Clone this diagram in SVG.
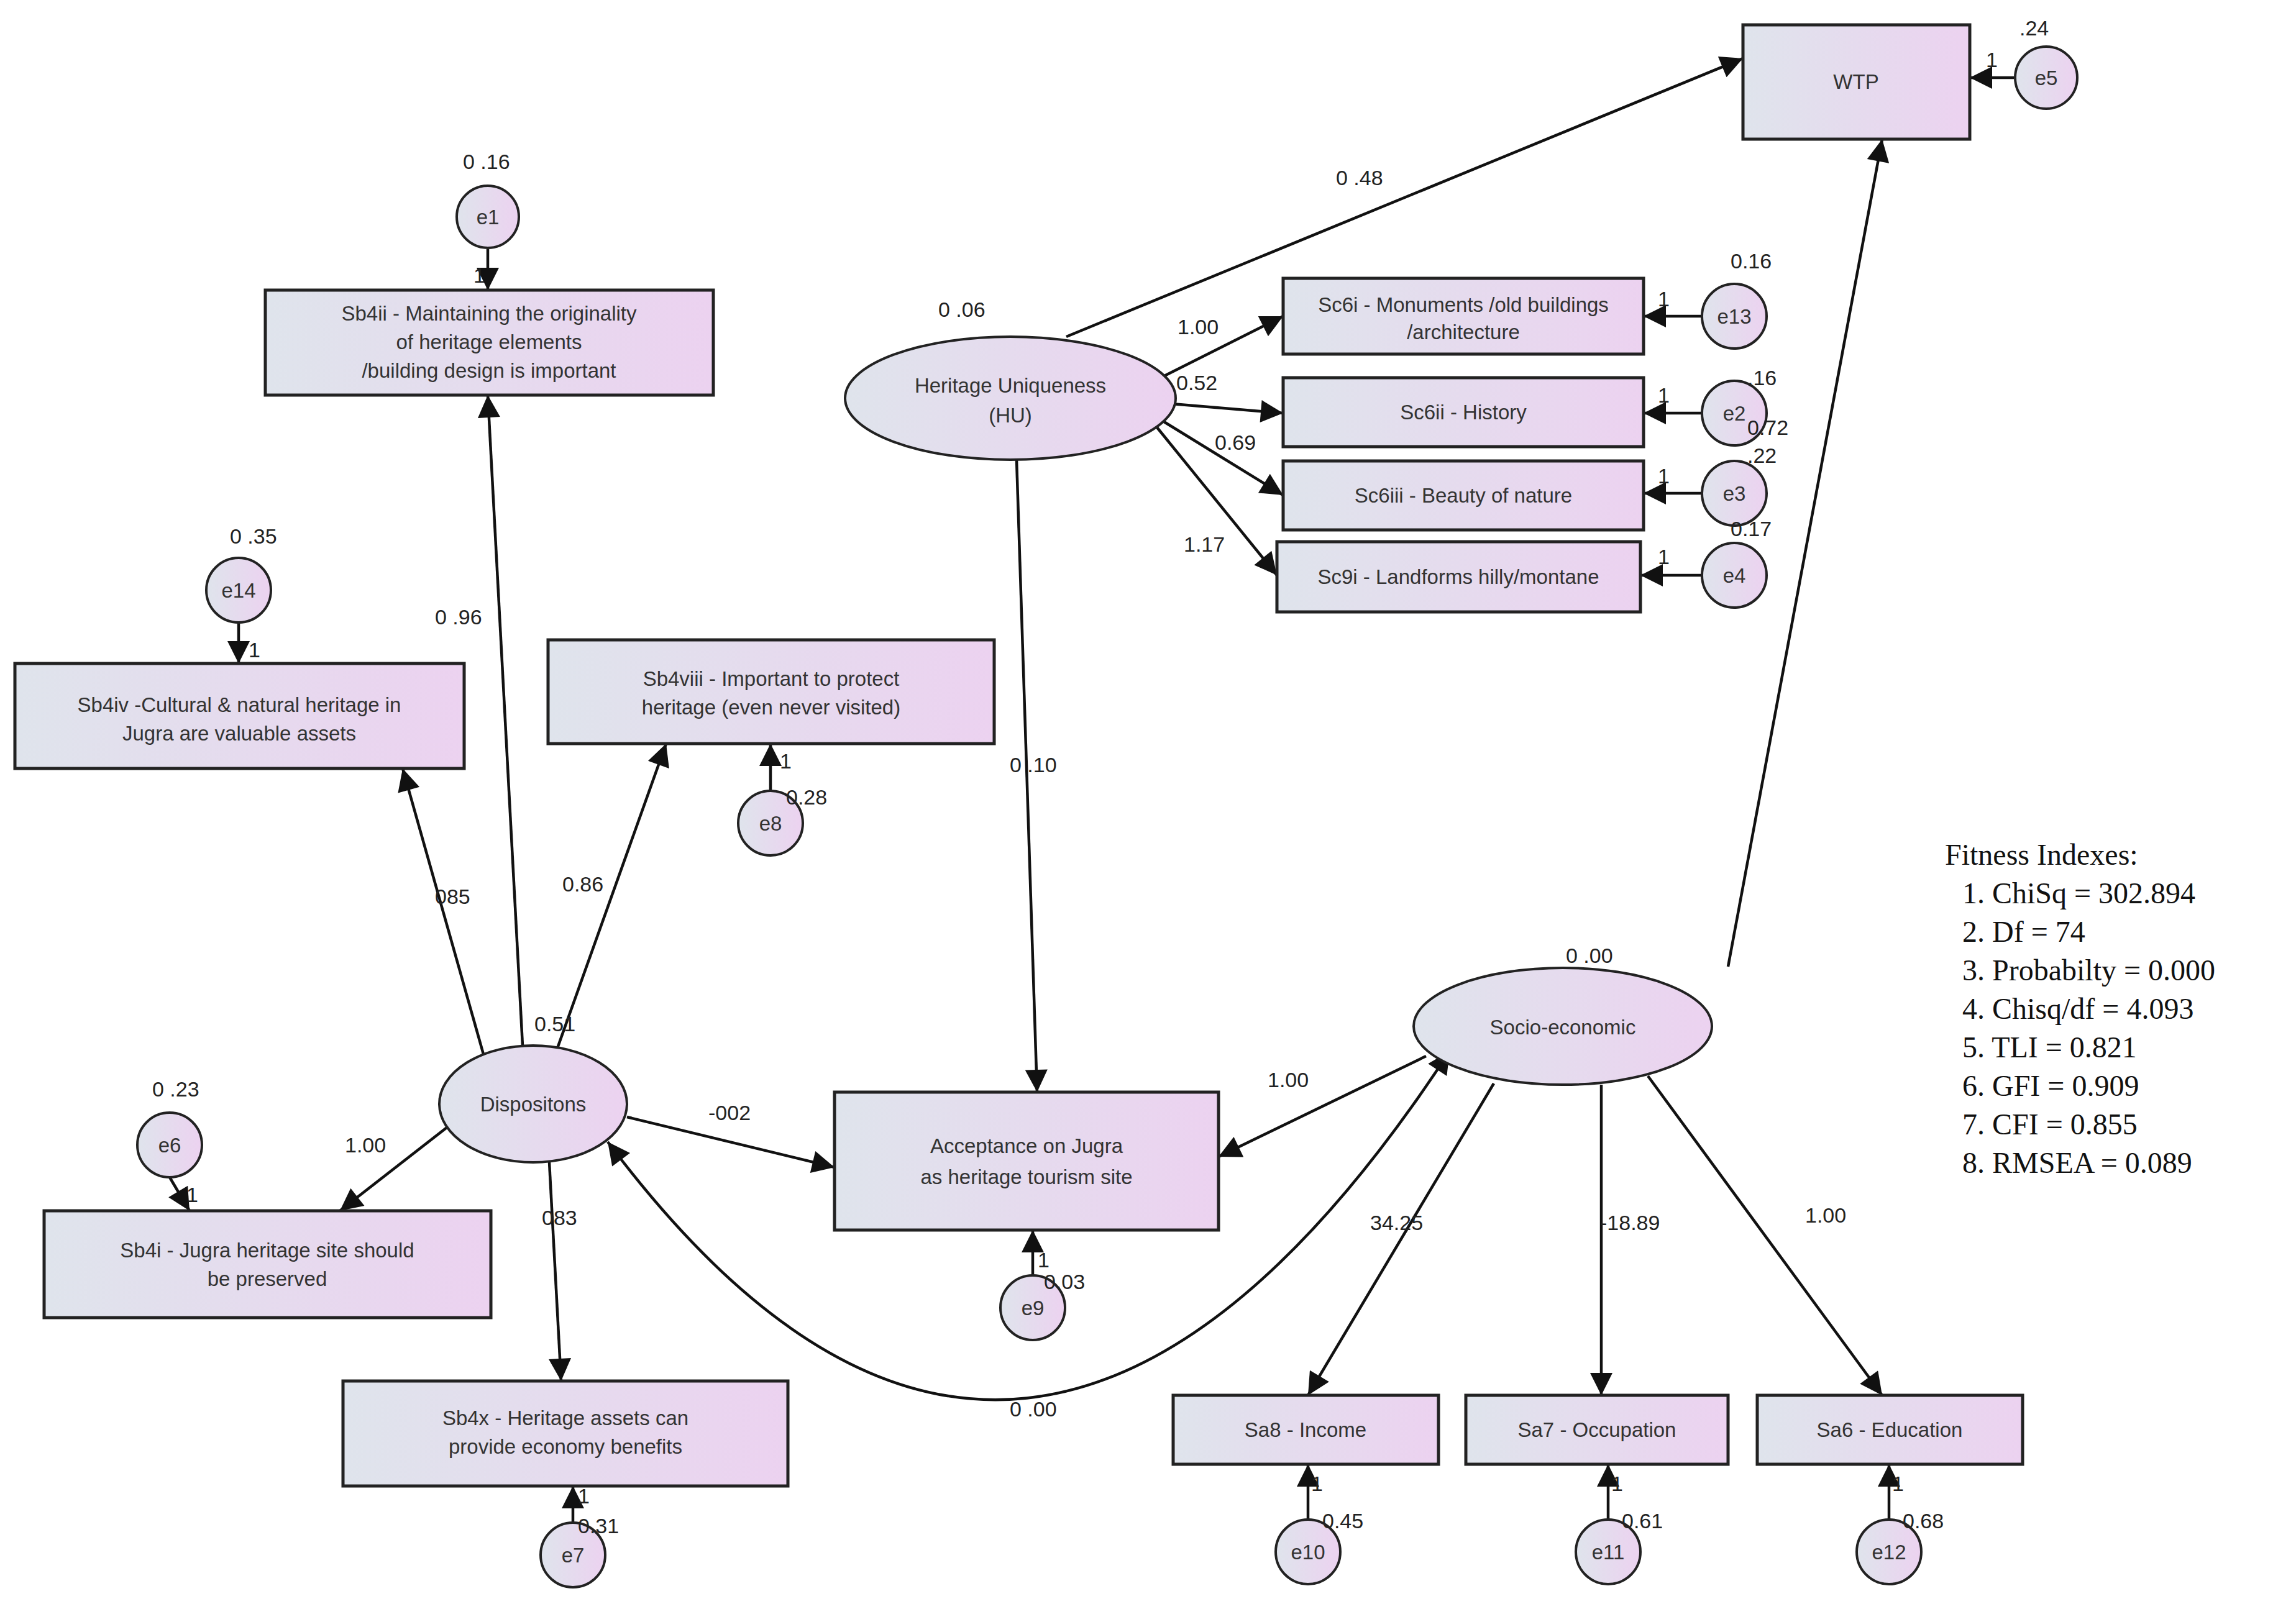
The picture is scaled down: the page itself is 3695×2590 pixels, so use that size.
<svg xmlns="http://www.w3.org/2000/svg" width="3695" height="2590" viewBox="0 0 3695 2590">
<defs>
<linearGradient id="g" x1="0" y1="0" x2="1" y2="0"><stop offset="0" stop-color="#dfe4ec"/><stop offset="1" stop-color="#ecd2f0"/></linearGradient>
<marker id="a" viewBox="0 0 10 10" refX="10" refY="5" markerWidth="11" markerHeight="8" markerUnits="strokeWidth" orient="auto-start-reverse"><path d="M0,0 L10,5 L0,10 z" fill="#111"/></marker>
<style>
.b{fill:url(#g);stroke:#222;stroke-width:5}
.e{fill:url(#g);stroke:#222;stroke-width:4}
.t{font-family:"Liberation Sans",Arial,sans-serif;font-size:33px;fill:#333;text-anchor:middle}
.l{font-family:"Liberation Sans",Arial,sans-serif;font-size:34px;fill:#222}
.f{font-family:"Liberation Serif","Times New Roman",serif;font-size:48px;fill:#111}
.c path{fill:none;stroke:#111;stroke-width:4.5;marker-end:url(#a)}
</style>
</defs>
<rect width="3695" height="2590" fill="#fff"/>
<g class="c" id="connectors">
<path d="M1716,542 L2805,94"/>
<path d="M2781,1556 L3029,224"/>
<path d="M1636,740 L1669,1758"/>
<path d="M1850,617 L2065,509"/>
<path d="M1862,648 L2065,665"/>
<path d="M1862,672 L2065,797"/>
<path d="M1862,688 L2055,926"/>
<path d="M841,1683 L785,636"/>
<path d="M778,1697 L648,1237"/>
<path d="M896,1690 L1072,1197"/>
<path d="M719,1815 L547,1949"/>
<path d="M884,1871 L903,2223"/>
<path d="M1009,1798 L1343,1879"/>
<path d="M2295,1700 L1961,1862"/>
<path d="M2404,1744 L2105,2246"/>
<path d="M2577,1746 L2577,2246"/>
<path d="M2652,1732 L3029,2246"/>
<path d="M978,1838 Q1650,2736 2333,1692" marker-start="url(#a)"/>
<path d="M3241,125 L3170,125"/>
<path d="M785,401 L785,467"/>
<path d="M384,1002 L384,1068"/>
<path d="M1240,1273 L1240,1197"/>
<path d="M273,1895 L305,1949"/>
<path d="M922,2451 L922,2392"/>
<path d="M1662,2053 L1662,1980"/>
<path d="M2739,509 L2645,509"/>
<path d="M2739,665 L2645,665"/>
<path d="M2739,794 L2645,794"/>
<path d="M2739,926 L2640,926"/>
<path d="M2105,2446 L2105,2357"/>
<path d="M2588,2446 L2588,2357"/>
<path d="M3040,2446 L3040,2357"/>
</g>
<g id="WTP"><rect class="b" x="2805" y="40" width="365" height="184"/><text class="t" x="2987" y="143">WTP</text></g>
<g id="e5"><circle class="e" cx="3293" cy="125" r="50"/><text class="t" x="3293" y="137">e5</text></g>
<g id="e1"><circle class="e" cx="785" cy="349" r="50"/><text class="t" x="785" y="361">e1</text></g>
<g id="Sb4ii"><rect class="b" x="427" y="467" width="721" height="169"/><text class="t" x="787" y="516">Sb4ii - Maintaining the originality</text><text class="t" x="787" y="562">of heritage elements</text><text class="t" x="787" y="608">/building design is important</text></g>
<g id="e14"><circle class="e" cx="384" cy="950" r="52"/><text class="t" x="384" y="962">e14</text></g>
<g id="Sb4iv"><rect class="b" x="24" y="1068" width="723" height="169"/><text class="t" x="385" y="1146">Sb4iv -Cultural &amp; natural heritage in</text><text class="t" x="385" y="1192">Jugra are valuable assets</text></g>
<g id="Sb4viii"><rect class="b" x="882" y="1030" width="718" height="167"/><text class="t" x="1241" y="1104">Sb4viii - Important to protect</text><text class="t" x="1241" y="1150">heritage (even never visited)</text></g>
<g id="e8"><circle class="e" cx="1240" cy="1325" r="52"/><text class="t" x="1240" y="1337">e8</text></g>
<g id="Dispositons"><ellipse class="e" cx="858" cy="1777" rx="151" ry="94"/><text class="t" x="858" y="1789">Dispositons</text></g>
<g id="e6"><circle class="e" cx="273" cy="1843" r="52"/><text class="t" x="273" y="1855">e6</text></g>
<g id="Sb4i"><rect class="b" x="71" y="1949" width="719" height="172"/><text class="t" x="430" y="2024">Sb4i - Jugra heritage site should</text><text class="t" x="430" y="2070">be preserved</text></g>
<g id="Sb4x"><rect class="b" x="552" y="2223" width="716" height="169"/><text class="t" x="910" y="2294">Sb4x - Heritage assets can</text><text class="t" x="910" y="2340">provide economy benefits</text></g>
<g id="e7"><circle class="e" cx="922" cy="2503" r="52"/><text class="t" x="922" y="2515">e7</text></g>
<g id="Acceptance"><rect class="b" x="1343" y="1758" width="618" height="222"/><text class="t" x="1652" y="1856" font-size="38">Acceptance on Jugra</text><text class="t" x="1652" y="1906" font-size="38">as heritage tourism site</text></g>
<g id="e9"><circle class="e" cx="1662" cy="2105" r="52"/><text class="t" x="1662" y="2117">e9</text></g>
<g id="HU"><ellipse class="e" cx="1626" cy="641" rx="266" ry="99"/><text class="t" x="1626" y="632" font-size="36">Heritage Uniqueness</text><text class="t" x="1626" y="680" font-size="36">(HU)</text></g>
<g id="Sc6i"><rect class="b" x="2065" y="448" width="580" height="122"/><text class="t" x="2355" y="502">Sc6i - Monuments /old buildings</text><text class="t" x="2355" y="546">/architecture</text></g>
<g id="Sc6ii"><rect class="b" x="2065" y="608" width="580" height="111"/><text class="t" x="2355" y="675">Sc6ii - History</text></g>
<g id="Sc6iii"><rect class="b" x="2065" y="742" width="580" height="111"/><text class="t" x="2355" y="809">Sc6iii - Beauty of nature</text></g>
<g id="Sc9i"><rect class="b" x="2055" y="872" width="585" height="113"/><text class="t" x="2347" y="940">Sc9i - Landforms hilly/montane</text></g>
<g id="e13"><circle class="e" cx="2791" cy="509" r="52"/><text class="t" x="2791" y="521">e13</text></g>
<g id="e2"><circle class="e" cx="2791" cy="665" r="52"/><text class="t" x="2791" y="677">e2</text></g>
<g id="e3"><circle class="e" cx="2791" cy="794" r="52"/><text class="t" x="2791" y="806">e3</text></g>
<g id="e4"><circle class="e" cx="2791" cy="926" r="52"/><text class="t" x="2791" y="938">e4</text></g>
<g id="Socio"><ellipse class="e" cx="2515" cy="1652" rx="240" ry="94"/><text class="t" x="2515" y="1665" font-size="36">Socio-economic</text></g>
<g id="Sa8"><rect class="b" x="1888" y="2246" width="427" height="111"/><text class="t" x="2101" y="2313">Sa8 - Income</text></g>
<g id="Sa7"><rect class="b" x="2359" y="2246" width="422" height="111"/><text class="t" x="2570" y="2313">Sa7 - Occupation</text></g>
<g id="Sa6"><rect class="b" x="2828" y="2246" width="427" height="111"/><text class="t" x="3041" y="2313">Sa6 - Education</text></g>
<g id="e10"><circle class="e" cx="2105" cy="2498" r="52"/><text class="t" x="2105" y="2510">e10</text></g>
<g id="e11"><circle class="e" cx="2588" cy="2498" r="52"/><text class="t" x="2588" y="2510">e11</text></g>
<g id="e12"><circle class="e" cx="3040" cy="2498" r="52"/><text class="t" x="3040" y="2510">e12</text></g>
<g id="labels" class="l">
<text x="3250" y="57">.24</text><text x="3196" y="108">1</text>
<text x="745" y="272">0 .16</text><text x="762" y="455">1</text>
<text x="370" y="875">0 .35</text><text x="400" y="1058">1</text>
<text x="1255" y="1237">1</text><text x="1265" y="1295">0.28</text>
<text x="245" y="1765">0 .23</text><text x="300" y="1935">1</text>
<text x="930" y="2420">1</text><text x="930" y="2468">0.31</text>
<text x="1670" y="2040">1</text><text x="1680" y="2075">0.03</text>
<text x="1510" y="510">0 .06</text>
<text x="2150" y="298">0 .48</text>
<text x="1895" y="538">1.00</text><text x="1893" y="628">0.52</text><text x="1955" y="724">0.69</text><text x="1905" y="888">1.17</text>
<text x="2785" y="432">0.16</text><text x="2668" y="493">1</text>
<text x="2812" y="620">.16</text><text x="2668" y="648">1</text>
<text x="2812" y="700">0.72</text><text x="2812" y="745">.22</text><text x="2668" y="778">1</text>
<text x="2785" y="863">0.17</text><text x="2668" y="908">1</text>
<text x="1625" y="1243">0 .10</text>
<text x="700" y="1005">0 .96</text><text x="700" y="1455">085</text><text x="905" y="1435">0.86</text><text x="860" y="1660">0.51</text>
<text x="555" y="1855">1.00</text><text x="1140" y="1803">-002</text><text x="872" y="1972">083</text>
<text x="1625" y="2280">0 .00</text>
<text x="2040" y="1750">1.00</text><text x="2520" y="1550">0 .00</text>
<text x="2205" y="1980">34.25</text><text x="2575" y="1980">-18.89</text><text x="2905" y="1968">1.00</text>
<text x="2110" y="2400">1</text><text x="2128" y="2460">0.45</text>
<text x="2593" y="2400">1</text><text x="2610" y="2460">0.61</text>
<text x="3045" y="2400">1</text><text x="3062" y="2460">0.68</text>
</g>
<g id="fitness" class="f">
<text x="3130" y="1392">Fitness Indexes:</text>
<text x="3158" y="1454">1.  ChiSq = 302.894</text>
<text x="3158" y="1516">2.  Df = 74</text>
<text x="3158" y="1578">3.  Probabilty = 0.000</text>
<text x="3158" y="1640">4.  Chisq/df = 4.093</text>
<text x="3158" y="1702">5.  TLI = 0.821</text>
<text x="3158" y="1764">6.  GFI = 0.909</text>
<text x="3158" y="1826">7.  CFI = 0.855</text>
<text x="3158" y="1888">8.  RMSEA = 0.089</text>
</g>
</svg>
